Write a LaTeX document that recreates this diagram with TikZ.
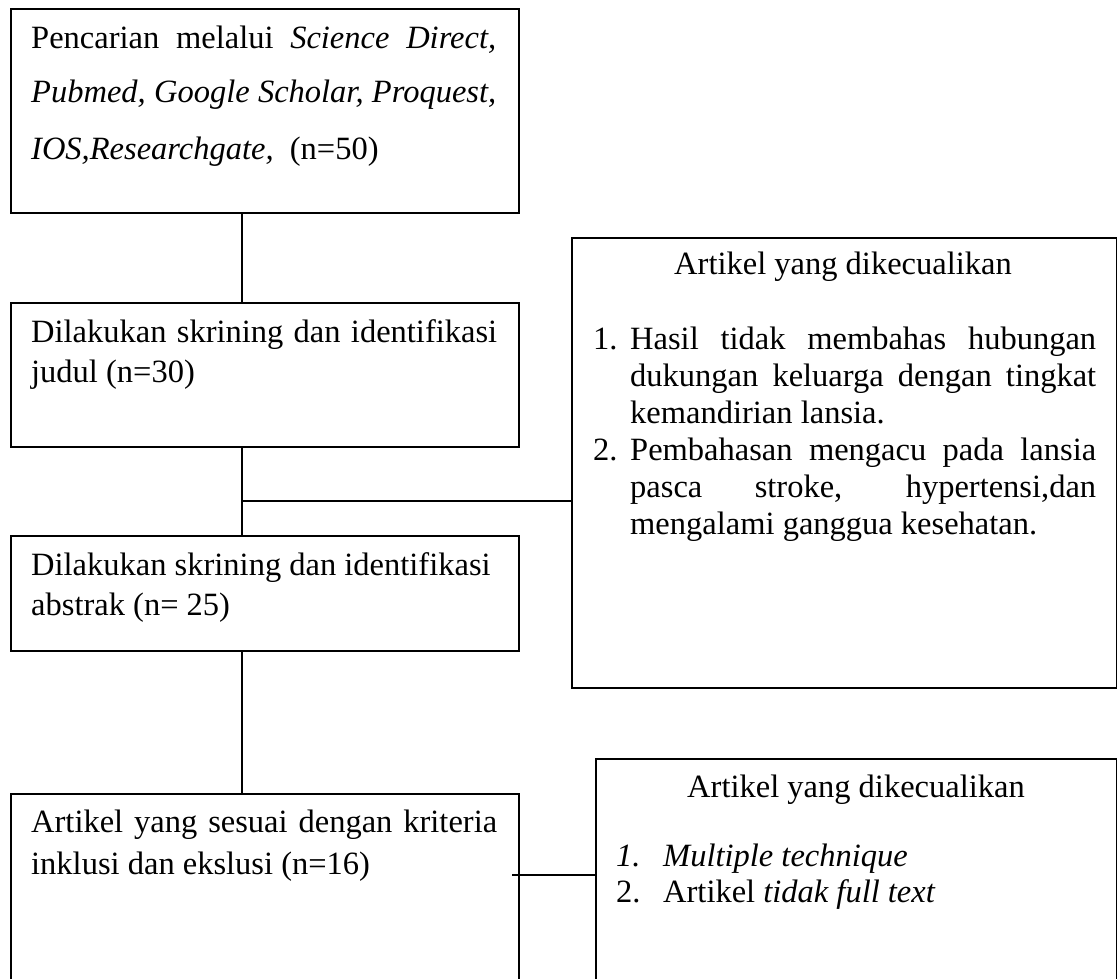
\documentclass[tikz,border=0pt]{standalone}
\usepackage{fontspec}
\setmainfont{Liberation Serif}
\begin{document}
\begin{tikzpicture}[x=1pt,y=-1pt,
  box/.style={draw, line width=1.5pt, rectangle, inner sep=0pt, anchor=north west},
  txt/.style={anchor=base west, inner sep=0pt, font=\fontsize{32.5}{40}\selectfont},
  ctxt/.style={anchor=base, inner sep=0pt, font=\fontsize{32.5}{40}\selectfont},
  conn/.style={line width=1.5pt}]
\useasboundingbox (0,0) rectangle (1117,978);
\clip (0,0) rectangle (1117,978);

% boxes
\node[box, minimum width=508pt, minimum height=204pt] (box1) at (10,8) {};
\node[box, minimum width=508pt, minimum height=144pt] (box2) at (10,302) {};
\node[box, minimum width=508pt, minimum height=115pt] (box3) at (10,535) {};
\node[box, minimum width=508pt, minimum height=230pt] (box4) at (10,793) {};
\node[box, minimum width=544.5pt, minimum height=450pt] (rbox1) at (571,237) {};
\node[box, minimum width=520.5pt, minimum height=260pt] (rbox2) at (595,758) {};

% texts box1
\node[txt] (b1a) at (31,48) {\makebox[465pt][s]{Pencarian melalui \textit{Science Direct,}}};
\node[txt] (b1b) at (31,102) {\makebox[465pt][s]{\textit{Pubmed, Google Scholar, Proquest,}}};
\node[txt] (b1c) at (31,159) {\textit{IOS,Researchgate,}\ \ (n=50)};

% box2
\node[txt] (b2a) at (31,342) {\makebox[466pt][s]{Dilakukan skrining dan identifikasi}};
\node[txt] (b2b) at (31,382) {judul (n=30)};

% box3
\node[txt] (b3a) at (31,575) {Dilakukan skrining dan identifikasi};
\node[txt] (b3b) at (31,615) {abstrak (n= 25)};

% box4
\node[txt] (b4a) at (31,832) {\makebox[466pt][s]{Artikel yang sesuai dengan kriteria}};
\node[txt] (b4b) at (31,874) {inklusi dan ekslusi (n=16)};

% right box 1
\node[ctxt] (r1t) at (843,274) {Artikel yang dikecualikan};
\node[txt] (r1n1) at (593,349) {1.};
\node[txt] (r1a) at (630,349) {\makebox[466pt][s]{Hasil tidak membahas hubungan}};
\node[txt] (r1b) at (630,386) {\makebox[466pt][s]{dukungan keluarga dengan tingkat}};
\node[txt] (r1c) at (630,423) {kemandirian lansia.};
\node[txt] (r1n2) at (593,460) {2.};
\node[txt] (r1d) at (630,460) {\makebox[466pt][s]{Pembahasan mengacu pada lansia}};
\node[txt] (r1e) at (630,497) {\makebox[466pt][s]{pasca stroke, hypertensi,dan}};
\node[txt] (r1f) at (630,534) {mengalami ganggua kesehatan.};

% right box 2
\node[ctxt] (r2t) at (856,797) {Artikel yang dikecualikan};
\node[txt] (r2n1) at (616,866) {\textit{1.}};
\node[txt] (r2a) at (663,866) {\textit{Multiple technique}};
\node[txt] (r2n2) at (616,902) {2.};
\node[txt] (r2b) at (663,902) {Artikel \textit{tidak full text}};

% connectors
\coordinate (cx) at (242,0);
\coordinate (j1) at (242,501);
\coordinate (j2) at (512,875);
\draw[conn] (box1.south -| cx) -- (box2.north -| cx);
\draw[conn] (box2.south -| cx) -- (box3.north -| cx);
\draw[conn] (j1) -- (j1 -| rbox1.west);
\draw[conn] (box3.south -| cx) -- (box4.north -| cx);
\draw[conn] (j2) -- (j2 -| rbox2.west);
\end{tikzpicture}
\end{document}
